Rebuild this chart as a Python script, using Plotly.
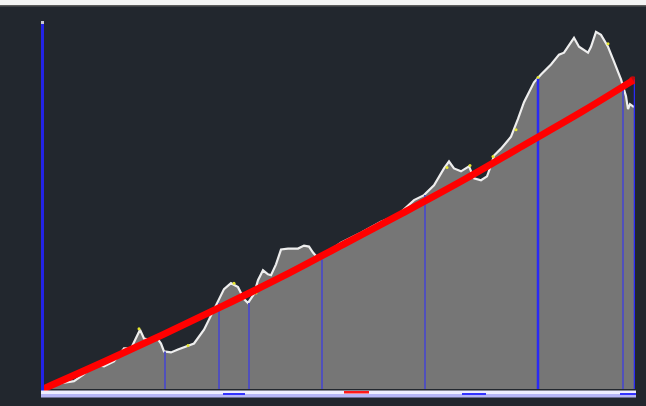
import plotly.graph_objects as go

# Profile: position along the track and level of the measured series
pos = [0, 8, 18, 31, 41, 51, 61, 71, 81, 88, 93, 97, 101, 106, 113, 118, 121, 128,
       135, 145, 151, 161, 171, 181, 188, 195, 201, 205, 211, 215, 220, 225, 228,
       233, 238, 245, 255, 261, 266, 270, 276, 288, 298, 318, 338, 348, 358, 371,
       381, 391, 401, 406, 411, 418, 426, 431, 438, 444, 448, 451, 458, 468, 475,
       481, 491, 498, 508, 516, 521, 528, 531, 536, 545, 548, 553, 558, 565, 571,
       578, 583, 585, 587, 591]
level = [0, 3, 6, 8, 15, 25, 23, 28, 41, 41, 51, 60, 51, 50, 53, 46, 38, 37,
         40, 44, 46, 60, 81, 101, 107, 103, 91, 87, 96, 110, 120, 116, 115,
         126, 141, 142, 142, 145, 144, 138, 131, 141, 148, 158, 169, 173, 179, 191,
         196, 206, 223, 230, 223, 220, 225, 213, 211, 215, 226, 236, 243, 255, 273,
         290, 310, 318, 328, 338, 340, 350, 355, 346, 340, 346, 361, 358, 346, 331,
         313, 296, 283, 288, 285]

# Fitted trend
trend_pos = [0, 60, 120, 180, 240, 300, 360, 420, 480, 540, 590]
trend_level = [0, 27, 55, 84, 114, 146, 178, 211, 246, 281, 312]

# Marked positions (drop lines) and their levels
drop_pos = [122, 176, 206, 279, 382, 580]
drop_level = [38, 87, 87, 131, 196, 303]
key_pos = [495, 592]
key_level = [315, 313]

# Highlighted samples on the profile
hi_pos = [96, 145, 191, 213, 404, 427, 450, 473, 495, 565]
hi_level = [61, 44, 107, 97, 224, 226, 235, 262, 315, 349]

BG = "#22272e"

def segments(xs, ys):
    sx, sy = [], []
    for x, y in zip(xs, ys):
        sx += [x, x, None]
        sy += [0, y, None]
    return sx, sy

fig = go.Figure()

fig.add_trace(go.Scatter(
    x=pos, y=level, mode="lines", fill="tozeroy",
    fillcolor="#767676", line=dict(color="#eeeeee", width=2.2),
    hoverinfo="skip", showlegend=False))

dx, dy = segments(drop_pos, drop_level)
fig.add_trace(go.Scatter(x=dx, y=dy, mode="lines",
                         line=dict(color="#5050bc", width=2),
                         hoverinfo="skip", showlegend=False))
kx, ky = segments(key_pos, key_level)
fig.add_trace(go.Scatter(x=kx, y=ky, mode="lines",
                         line=dict(color="#2a2af5", width=2.5),
                         hoverinfo="skip", showlegend=False))

fig.add_trace(go.Scatter(x=hi_pos, y=hi_level, mode="markers",
                         marker=dict(color="#e6e630", size=3),
                         hoverinfo="skip", showlegend=False))

fig.add_trace(go.Scatter(
    x=trend_pos, y=trend_level, mode="lines+markers",
    line=dict(color="#ff0000", width=7, shape="spline"),
    marker=dict(color="#ff0000", size=[7] + [0] * (len(trend_pos) - 2) + [8],
                line=dict(width=0)),
    hoverinfo="skip", showlegend=False))

# Frame: left axis line, baseline band and header strip
W, H = 646, 406
L, R, T, B = 43, 11, 22, 15
pw, ph = W - L - R, H - T - B


def px(x):
    return (x - L) / pw


def py(y):
    return (H - B - y) / ph


shapes = [
    dict(type="rect", xref="paper", yref="paper", x0=px(0), x1=px(W), y0=py(5), y1=py(-2),
         fillcolor="#f4f4f4", line=dict(width=0), layer="above"),
    dict(type="rect", xref="paper", yref="paper", x0=px(0), x1=px(W), y0=py(6.5), y1=py(5),
         fillcolor="#5c5c5c", line=dict(width=0), layer="above"),
    dict(type="rect", xref="paper", yref="paper", x0=px(41), x1=px(44), y0=py(393), y1=py(22),
         fillcolor="#2323e6", line=dict(width=0), layer="above"),
    dict(type="rect", xref="paper", yref="paper", x0=px(41), x1=px(636), y0=py(394), y1=py(390.5),
         fillcolor="#eeeeff", line=dict(width=0), layer="above"),
    dict(type="rect", xref="paper", yref="paper", x0=px(41), x1=px(636), y0=py(397.5), y1=py(394),
         fillcolor="#b6b6f6", line=dict(width=0), layer="above"),
]
for a, b, c in [(223, 245, "#3333ff"), (462, 486, "#3333ff"), (620, 636, "#3333ff"),
                (344, 369, "#ff1a1a")]:
    y0, y1 = (393.5, 391) if c == "#ff1a1a" else (395, 393)
    shapes.append(dict(type="rect", xref="paper", yref="paper", x0=px(a), x1=px(b),
                       y0=py(y0), y1=py(y1), fillcolor=c, line=dict(width=0), layer="above"))
shapes.append(dict(type="rect", xref="paper", yref="paper", x0=px(41), x1=px(44),
                   y0=py(24), y1=py(21), fillcolor="#c8c8d0", line=dict(width=0), layer="above"))

fig.update_layout(
    width=W, height=H,
    margin=dict(l=L, r=R, t=T, b=B, pad=0),
    paper_bgcolor=BG, plot_bgcolor=BG,
    xaxis=dict(range=[0, 592], visible=False, fixedrange=True),
    yaxis=dict(range=[-2, 371], visible=False, fixedrange=True),
    shapes=shapes,
    showlegend=False,
)

fig.write_html("out.html", config={"displayModeBar": False})
